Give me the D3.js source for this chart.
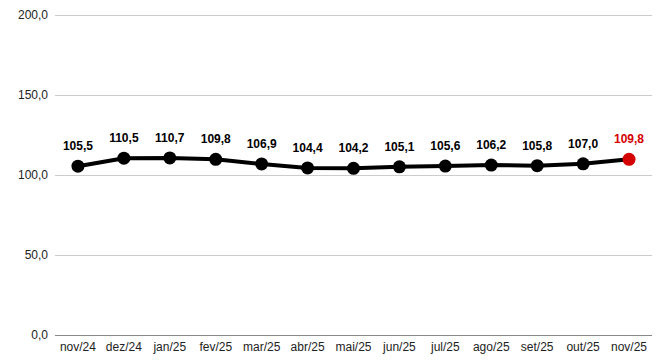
<!DOCTYPE html>
<html><head><meta charset="utf-8">
<script src="https://cdn.jsdelivr.net/npm/d3@7"></script>
<style>body{margin:0;background:#fff}svg{display:block}</style>
</head><body>
<svg id="c" width="672" height="364"></svg>
<script>
const categories = ["nov/24","dez/24","jan/25","fev/25","mar/25","abr/25","mai/25","jun/25","jul/25","ago/25","set/25","out/25","nov/25"];
const values = [105.5,110.5,110.7,109.8,106.9,104.4,104.2,105.1,105.6,106.2,105.8,107.0,109.8];
const yTicks = [0,50,100,150,200];

const svg = d3.select("#c");
const m = {l:55, r:652, t:15, b:335};
const x = d3.scalePoint().domain(categories).range([m.l, m.r]).padding(0.5);
const y = d3.scaleLinear().domain([0,200]).range([m.b, m.t]);
const fmt = v => d3.format(".1f")(v).replace(".", ",");
const font = "Arial, 'Liberation Sans', sans-serif";

svg.append("g").selectAll("line").data(yTicks).join("line")
  .attr("x1", m.l).attr("x2", m.r)
  .attr("y1", d => y(d)).attr("y2", d => y(d))
  .attr("stroke", d => d === 0 ? "#888" : "#ccc").attr("stroke-width", 1)
  .attr("shape-rendering","crispEdges");

svg.append("g").selectAll("text").data(yTicks).join("text")
  .attr("x", 48).attr("y", d => y(d)).attr("dy","0.35em")
  .attr("text-anchor","end").attr("font-family",font).attr("font-size",12).attr("fill","#222")
  .text(fmt);

svg.append("g").selectAll("text").data(categories).join("text")
  .attr("x", d => x(d)).attr("y", m.b + 16)
  .attr("text-anchor","middle").attr("font-family",font).attr("font-size",12).attr("fill","#222")
  .text(d => d);

const line = d3.line().x((d,i) => x(categories[i])).y(d => y(d));
svg.append("path").datum(values).attr("d", line)
  .attr("fill","none").attr("stroke","#000").attr("stroke-width",4).attr("stroke-linejoin","round");

svg.append("g").selectAll("circle").data(values).join("circle")
  .attr("cx", (d,i) => x(categories[i])).attr("cy", d => y(d)).attr("r", 6.5)
  .attr("fill", (d,i) => i === values.length-1 ? "#d40000" : "#000");

svg.append("g").selectAll("text").data(values).join("text")
  .attr("x", (d,i) => x(categories[i])).attr("y", d => y(d) - 16)
  .attr("text-anchor","middle").attr("font-family",font).attr("font-size",12).attr("font-weight","bold")
  .attr("fill", (d,i) => i === values.length-1 ? "#d40000" : "#000")
  .text(fmt);
</script>
</body></html>
